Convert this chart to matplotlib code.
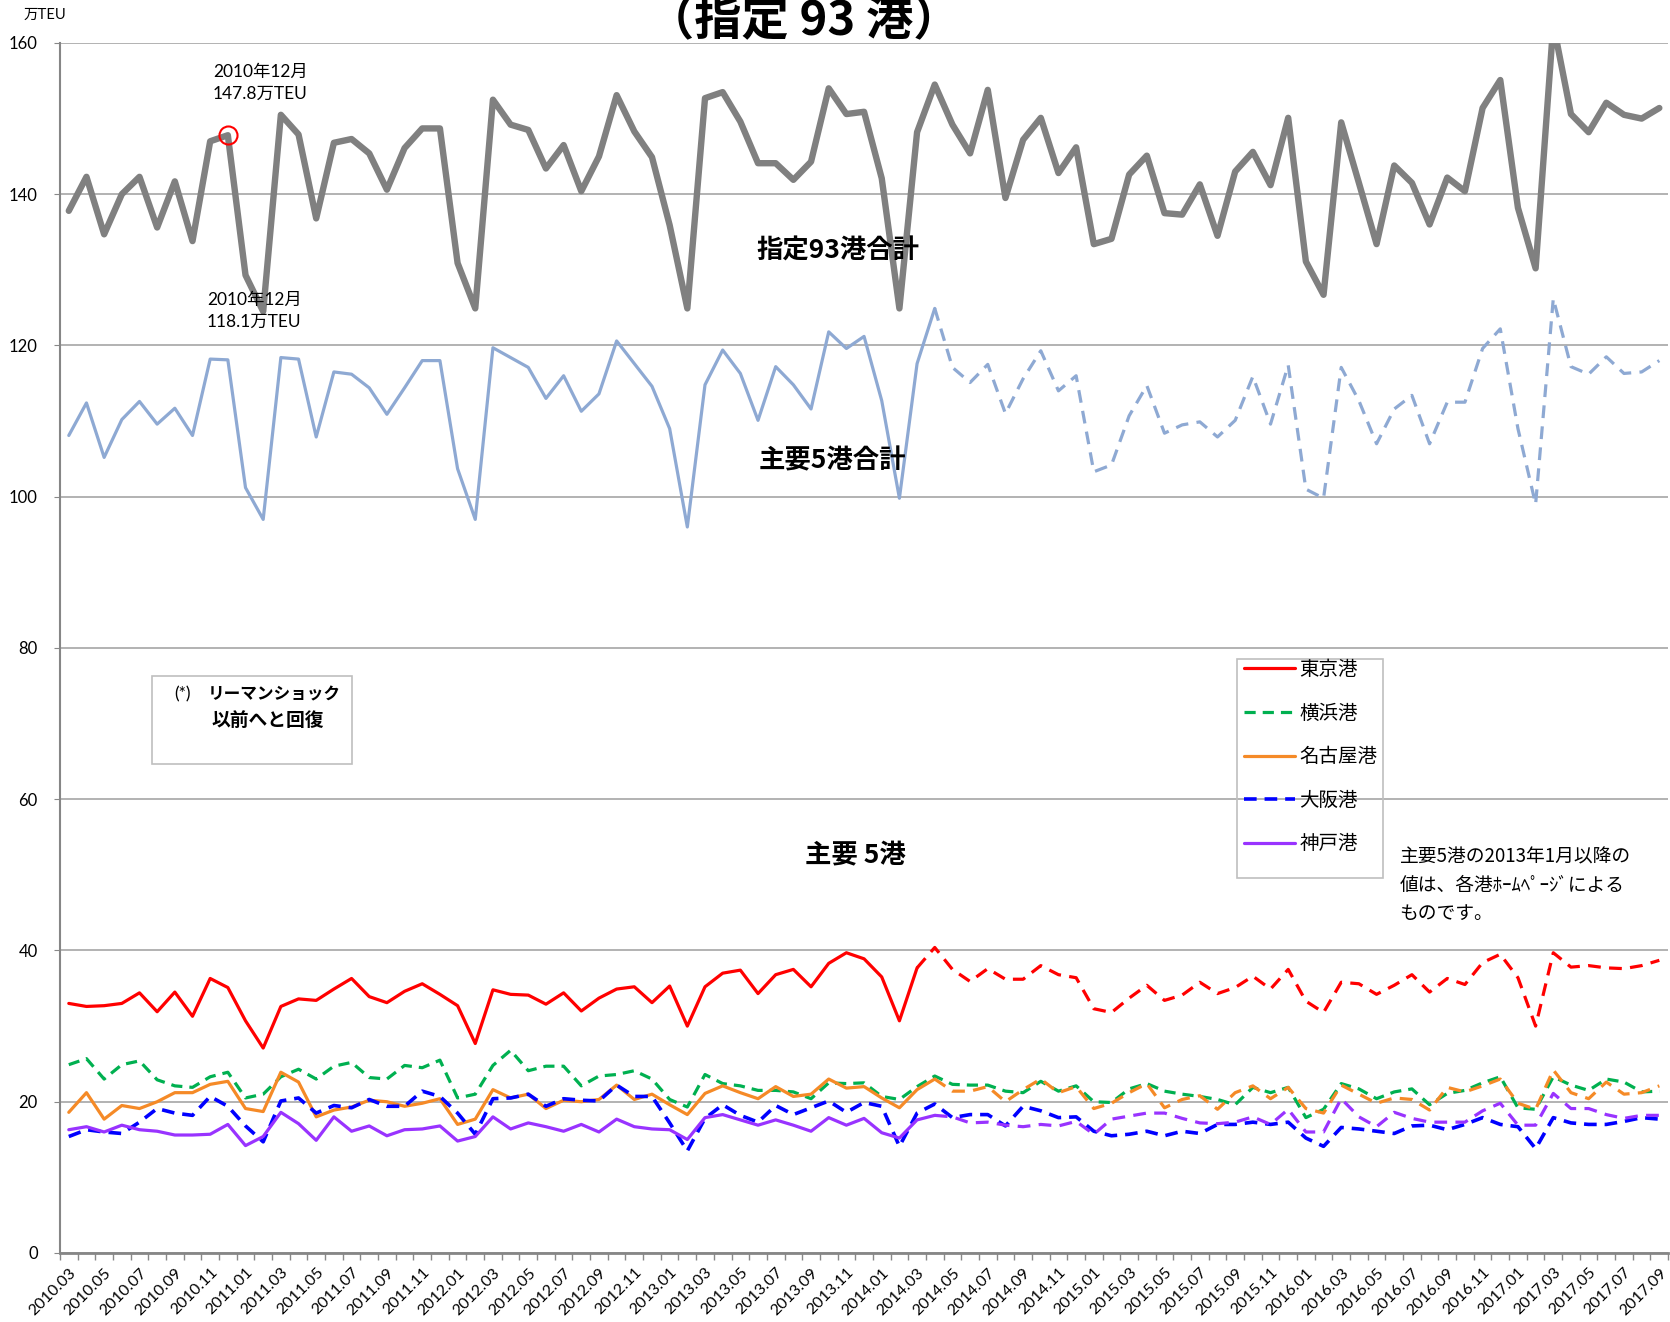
import numpy as np
import matplotlib.pyplot as plt
from matplotlib.patches import Rectangle

plt.rcParams['font.family'] = ['Lato', 'Noto Sans CJK JP', 'DejaVu Sans']
JP = ['Noto Sans CJK JP', 'DejaVu Sans']

# month labels 2010.03 - 2017.09
months = [f"{y}.{m:02d}" for y in range(2010, 2018) for m in range(1, 13)]
months = months[2:months.index("2017.09") + 1]

# 指定93港合計 (万TEU)
total93 = [137.8, 142.3, 134.7, 140.0, 142.3, 135.6, 141.7, 133.8, 147.0, 147.8,
           129.3, 124.5, 150.5, 147.9, 136.8, 146.8, 147.3, 145.4, 140.6, 146.1,
           148.7, 148.7, 130.9, 124.9, 152.5, 149.2, 148.5, 143.4, 146.5, 140.4,
           145.0, 153.1, 148.3, 144.9, 135.9, 124.9, 152.7, 153.5, 149.6, 144.1,
           144.1, 141.9, 144.3, 154.0, 150.6, 150.9, 142.1, 124.9, 148.2, 154.5,
           149.2, 145.4, 153.8, 139.5, 147.2, 150.1, 142.8, 146.2, 133.4, 134.1,
           142.6, 145.1, 137.5, 137.3, 141.3, 134.5, 143.0, 145.6, 141.2, 150.1,
           131.1, 126.7, 149.5, 141.5, 133.4, 143.8, 141.5, 136.0, 142.2, 140.4,
           151.4, 155.1, 138.2, 130.2, 162.5, 150.6, 148.2, 152.1, 150.5, 150.0, 151.4]

# 主要5港合計
main5 = [108.1, 112.4, 105.2, 110.2, 112.6, 109.6, 111.7, 108.1, 118.2, 118.1,
         101.2, 97.0, 118.4, 118.2, 107.9, 116.5, 116.2, 114.4, 110.9, 114.4,
         118.0, 118.0, 103.7, 97.0, 119.7, 118.4, 117.1, 113.0, 116.0, 111.3,
         113.6, 120.6, 117.6, 114.6, 109.0, 96.0, 114.8, 119.4, 116.3, 110.1,
         117.2, 114.8, 111.6, 121.8, 119.6, 121.2, 112.7, 99.8, 117.6, 124.9,
         117.1, 115.1, 117.5, 111.0, 115.6, 119.3, 114.0, 116.0, 103.3, 104.2,
         110.7, 114.7, 108.4, 109.5, 109.9, 107.9, 110.1, 115.9, 109.6, 117.4,
         101.0, 99.8, 117.1, 112.7, 107.0, 111.6, 113.4, 107.0, 112.5, 112.5,
         119.6, 122.2, 109.0, 99.0, 126.2, 117.2, 116.2, 118.5, 116.3, 116.5, 118.0]

tokyo = [33.0, 32.6, 32.7, 33.0, 34.4, 31.9, 34.5, 31.3, 36.3, 35.1,
         30.7, 27.1, 32.6, 33.6, 33.4, 34.9, 36.3, 33.9, 33.1, 34.6,
         35.6, 34.2, 32.7, 27.7, 34.8, 34.2, 34.1, 32.9, 34.4, 32.0,
         33.7, 34.9, 35.2, 33.1, 35.3, 30.0, 35.2, 37.0, 37.4, 34.3,
         36.8, 37.5, 35.2, 38.3, 39.7, 38.9, 36.5, 30.7, 37.7, 40.4,
         37.5, 35.9, 37.6, 36.2, 36.2, 38.0, 36.8, 36.4, 32.3, 31.8,
         33.7, 35.4, 33.4, 34.1, 35.8, 34.3, 35.1, 36.6, 34.9, 37.5,
         33.3, 31.8, 35.8, 35.6, 34.2, 35.4, 36.8, 34.5, 36.3, 35.5,
         38.4, 39.5, 36.4, 30.0, 39.7, 37.8, 38.0, 37.7, 37.6, 38.0, 38.7]

yokohama = [24.9, 25.7, 23.0, 24.9, 25.4, 22.9, 22.1, 21.9, 23.3, 23.9,
            20.5, 21.0, 23.3, 24.3, 23.0, 24.7, 25.2, 23.2, 23.0, 24.8,
            24.5, 25.5, 20.5, 21.0, 24.8, 26.8, 24.1, 24.7, 24.7, 22.1,
            23.4, 23.6, 24.1, 23.0, 20.3, 19.3, 23.6, 22.4, 22.1, 21.5,
            21.5, 21.3, 20.4, 22.5, 22.4, 22.5, 20.7, 20.3, 22.0, 23.4,
            22.3, 22.2, 22.2, 21.4, 21.2, 22.7, 21.4, 22.1, 20.0, 19.9,
            21.7, 22.4, 21.4, 21.0, 20.7, 20.3, 19.6, 21.9, 21.2, 21.9,
            17.9, 19.0, 22.4, 21.7, 20.4, 21.3, 21.7, 19.6, 21.1, 21.5,
            22.5, 23.3, 19.2, 19.0, 23.3, 22.2, 21.5, 23.0, 22.6, 21.3, 21.4]

nagoya = [18.6, 21.2, 17.7, 19.5, 19.1, 20.0, 21.2, 21.2, 22.3, 22.7,
          19.1, 18.7, 23.9, 22.6, 18.0, 18.9, 19.3, 20.2, 20.0, 19.4,
          19.8, 20.4, 17.0, 17.7, 21.6, 20.5, 21.0, 19.1, 20.2, 20.0,
          20.3, 22.2, 20.3, 21.0, 19.6, 18.3, 21.1, 22.1, 21.2, 20.4,
          22.0, 20.7, 21.0, 23.0, 21.8, 22.0, 20.5, 19.2, 21.6, 23.0,
          21.4, 21.4, 22.0, 20.0, 21.6, 23.0, 21.2, 22.0, 19.1, 19.8,
          21.2, 22.4, 19.2, 20.3, 20.8, 19.0, 21.2, 22.1, 20.4, 21.9,
          19.1, 18.5, 22.2, 21.0, 19.8, 20.5, 20.3, 18.9, 21.9, 21.3,
          22.1, 23.0, 19.8, 19.0, 24.2, 21.2, 20.4, 22.6, 21.0, 21.2, 22.1]

osaka = [15.4, 16.3, 16.0, 15.8, 17.3, 19.1, 18.5, 18.2, 20.7, 19.4,
         16.8, 14.7, 20.1, 20.5, 18.5, 19.5, 19.2, 20.3, 19.4, 19.4,
         21.4, 20.7, 18.5, 15.7, 20.4, 20.5, 21.0, 19.4, 20.4, 20.2,
         20.1, 22.2, 20.7, 20.7, 17.2, 13.5, 17.8, 19.6, 18.2, 17.3,
         19.5, 18.3, 19.2, 20.1, 18.6, 19.9, 19.4, 14.1, 18.5, 19.7,
         17.9, 18.3, 18.3, 16.8, 19.4, 18.8, 17.9, 18.0, 16.1, 15.5,
         15.7, 16.1, 15.5, 16.1, 15.8, 17.0, 17.0, 17.3, 17.0, 17.3,
         15.2, 14.1, 16.6, 16.4, 16.1, 15.8, 16.8, 16.9, 16.3, 17.0,
         17.9, 17.0, 16.7, 13.8, 17.9, 17.2, 17.0, 17.0, 17.4, 17.9, 17.7]

kobe = [16.3, 16.7, 16.0, 16.9, 16.3, 16.1, 15.6, 15.6, 15.7, 17.0,
        14.2, 15.4, 18.6, 17.1, 14.9, 18.0, 16.1, 16.8, 15.5, 16.3,
        16.4, 16.8, 14.8, 15.4, 18.0, 16.4, 17.2, 16.7, 16.1, 17.0,
        16.0, 17.7, 16.7, 16.4, 16.3, 15.0, 17.9, 18.3, 17.6, 16.9,
        17.6, 16.9, 16.1, 17.9, 16.9, 17.8, 15.9, 15.2, 17.6, 18.2,
        18.0, 17.2, 17.3, 16.9, 16.7, 17.0, 16.8, 17.4, 15.7, 17.7,
        18.1, 18.5, 18.5, 17.8, 17.2, 17.1, 17.3, 18.0, 17.0, 19.0,
        16.0, 16.0, 20.4, 18.0, 16.7, 18.6, 17.8, 17.3, 17.3, 17.3,
        18.8, 19.8, 16.9, 16.9, 21.1, 19.1, 19.1, 18.3, 17.8, 18.2, 18.2]

x = np.arange(len(months))
dash = (0, (3.5, 2.2))
dash2 = (0, (4, 2.6))
rnd = dict(solid_joinstyle='round', solid_capstyle='round',
           dash_joinstyle='round', dash_capstyle='butt')

fig = plt.figure(figsize=(16.7, 13.22), dpi=100)
ax = fig.add_axes([0.0359, 0.0522, 0.963, 0.9153])

ax.plot(x, total93, color='#808080', lw=4.6, **rnd)

c5 = '#8EA9D3'
ax.plot(x[:50], main5[:50], color=c5, lw=2.3, **rnd)
ax.plot(x[49:], main5[49:], color=c5, lw=2.3, ls=dash2, **rnd)

l_tokyo, = ax.plot(x[:49], tokyo[:49], color='#FF0000', lw=2.3, **rnd)
ax.plot(x[48:], tokyo[48:], color='#FF0000', lw=2.3, ls=dash2, **rnd)
l_yoko, = ax.plot(x, yokohama, color='#00B050', lw=2.3, ls=dash, **rnd)
l_nago, = ax.plot(x[:50], nagoya[:50], color='#F58A27', lw=2.3, **rnd)
ax.plot(x[49:], nagoya[49:], color='#F58A27', lw=2.3, ls=dash2, **rnd)
l_osaka, = ax.plot(x, osaka, color='#0000FF', lw=2.6, ls=dash, **rnd)
l_kobe, = ax.plot(x[:50], kobe[:50], color='#9933FF', lw=2.3, **rnd)
ax.plot(x[49:], kobe[49:], color='#9933FF', lw=2.3, ls=dash2, **rnd)

# highlighted point 2010.12
ax.plot(x[9], total93[9], 'o', ms=13, mfc='none', mec='#FF0000', mew=1.5)

ax.set_xlim(-0.5, len(x) - 0.5)
ax.set_ylim(0, 160)
ax.set_xticks(x[::2])
ax.set_xticklabels(months[::2], rotation=45, ha='right', va='top',
                   rotation_mode='anchor', fontsize=11.5)
ax.set_xticks(np.arange(-0.5, len(x), 1), minor=True)
ax.tick_params(axis='x', which='major', length=0, pad=9)
ax.tick_params(axis='x', which='minor', length=5, color='#888888', width=1)
ax.set_yticks(range(0, 161, 20))
ax.tick_params(axis='y', length=4, pad=12, color='#888888', labelsize=12)
ax.grid(axis='y', color='#A6A6A6', lw=1.2)
ax.set_axisbelow(True)
for s in ['top', 'right']:
    ax.spines[s].set_visible(False)
ax.spines['left'].set_color('#868686')
ax.spines['left'].set_linewidth(1.5)
ax.spines['bottom'].set_color('#868686')
ax.spines['bottom'].set_linewidth(2)

fig.text(0.014, 0.989, '万TEU', fontsize=10.5, va='center', ha='left')
fig.text(0.481, 0.9735, '（指定 93 港）', fontsize=34, fontweight='bold',
         ha='center', va='baseline', family=JP)

ax.text(10.83, 154.7, '2010年12月\n147.8万TEU', fontsize=12.5, ha='center',
        va='center', linespacing=1.5)
ax.text(10.5, 124.6, '2010年12月\n118.1万TEU', fontsize=12.5, ha='center',
        va='center', linespacing=1.5)
ax.text(43.5, 132.5, '指定93港合計', fontsize=19, fontweight='bold', ha='center',
        va='center', family=JP)
ax.text(43.2, 104.8, '主要5港合計', fontsize=19, fontweight='bold', ha='center',
        va='center', family=JP)
ax.text(44.5, 52.5, '主要 5港', fontsize=19, fontweight='bold', ha='center',
        va='center', family=JP)

# (*) box
ax.add_patch(Rectangle((4.7, 64.7), 11.3, 11.6, fill=False, ec='#BFBFBF', lw=1.2))
ax.text(5.95, 73.8, '(*)', fontsize=12.5, ha='left', va='center')
ax.text(7.87, 73.8, 'リーマンショック', fontsize=12, fontweight='bold',
        ha='left', va='center', family=JP)
ax.text(8.05, 70.4, '以前へと回復', fontsize=13.5, fontweight='bold',
        ha='left', va='center', family=JP)

# legend
ax.add_patch(Rectangle((66.1, 49.6), 8.25, 28.9, fill=False, ec='#BFBFBF', lw=1.2))
leg = ax.legend([l_tokyo, l_yoko, l_nago, l_osaka, l_kobe],
                ['東京港', '横浜港', '名古屋港', '大阪港', '神戸港'],
                loc='upper left', bbox_to_anchor=(65.95, 79.8),
                bbox_transform=ax.transData, frameon=False, borderpad=0,
                handlelength=2.6, handletextpad=0.25, labelspacing=1.16,
                prop={'family': JP, 'size': 14})

ax.text(75.3, 53.8, '主要5港の2013年1月以降の\n値は、各港ﾎｰﾑﾍﾟｰｼﾞによる\nものです。',
        fontsize=13.5, ha='left', va='top', linespacing=1.47, family=JP)

fig.savefig('out.png', dpi=100)
